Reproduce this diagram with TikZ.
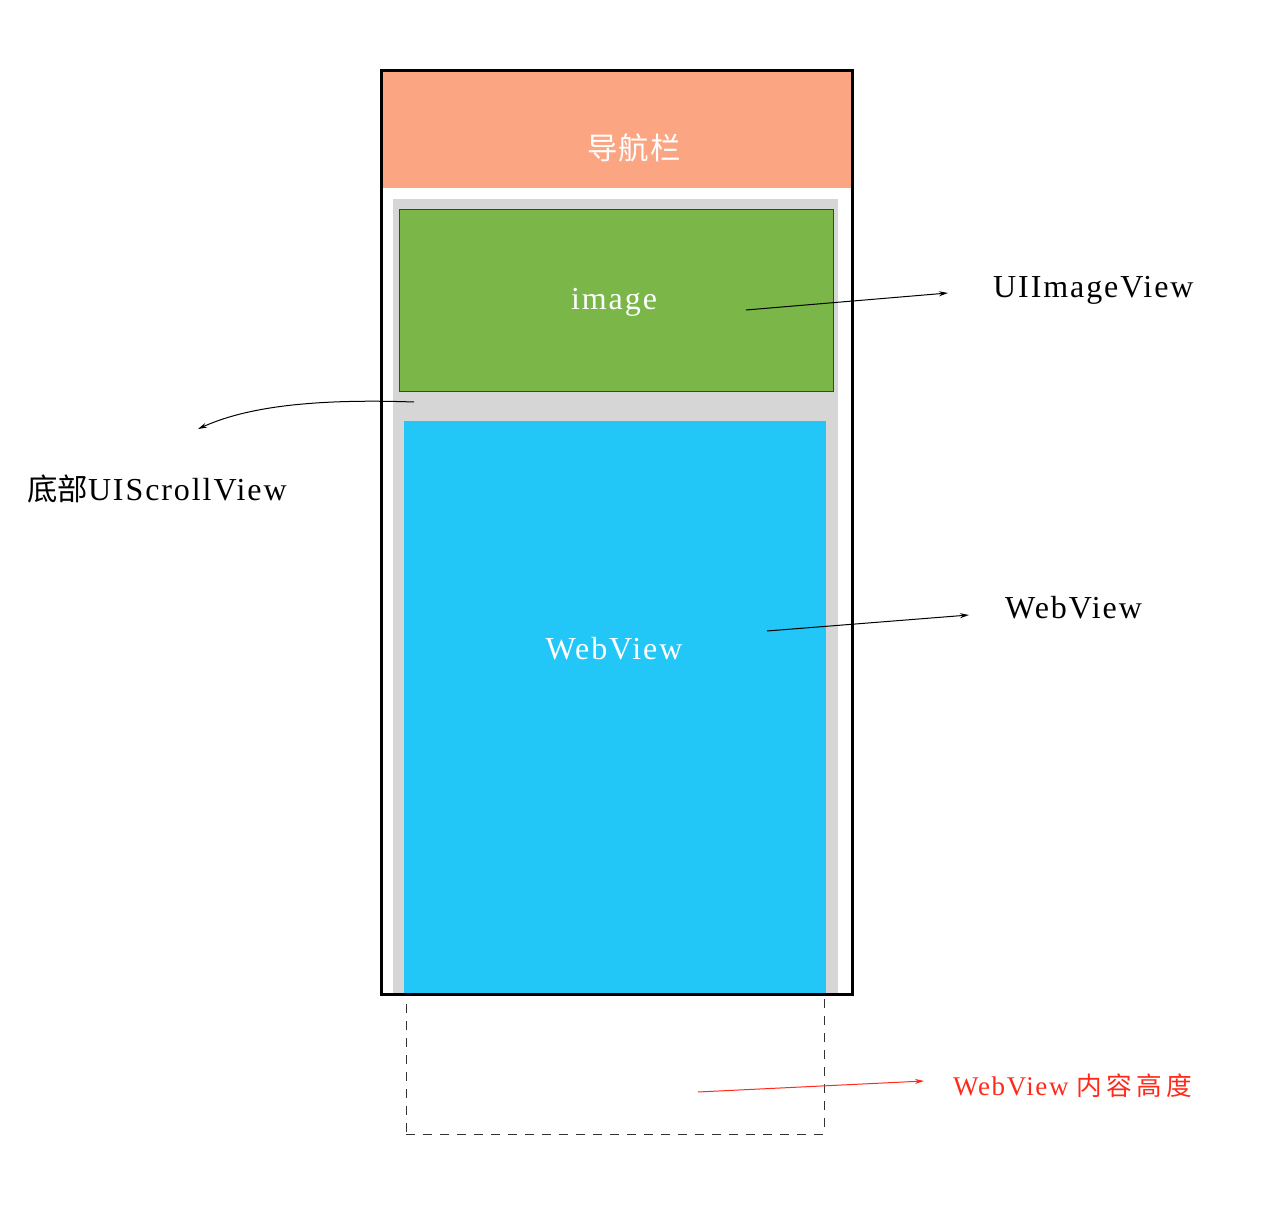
\documentclass[tikz,border=0pt]{standalone}
\usepackage{fontspec}
\setmainfont{Liberation Serif}[LetterSpace=6]
\newfontfamily\cjk{Noto Sans CJK SC}[Scale=0.95]
\usetikzlibrary{arrows.meta}
\definecolor{navsalmon}{HTML}{FBA582}
\definecolor{imggreen}{HTML}{7AB648}
\definecolor{webblue}{HTML}{22C7F7}
\definecolor{scrollgray}{HTML}{D6D6D6}
\definecolor{notered}{HTML}{FF2A1A}
\begin{document}
\begin{tikzpicture}[x=1pt,y=-1pt,
  box/.style={anchor=north west, inner sep=0pt, outer sep=0pt},
  lbl/.style={font=\fontsize{32}{36}\selectfont, inner sep=0pt},
  inlbl/.style={lbl, text=white},
  arr/.style={-{Stealth[length=9pt,width=5pt]}, line width=1pt},
  redarr/.style={arr, draw=notered}]
\useasboundingbox (0,0) rectangle (1278,1222);
% white background
\fill[white] (0,0) rectangle (1278,1222);
% dashed content-height box
\node[box, draw=black!80, dashed, dash pattern=on 9pt off 8pt, line width=1pt,
      minimum width=418pt, minimum height=140pt] (content) at (406,994) {};
% scroll view (gray)
\node[box, fill=scrollgray, minimum width=445pt, minimum height=795pt] (scroll) at (393,199) {};
% image view
\node[box, fill=imggreen, draw=black!75, line width=1pt,
      minimum width=434pt, minimum height=182pt] (img) at (399,210) {};
% web view
\node[box, fill=webblue, minimum width=422pt, minimum height=573pt] (web) at (404,421) {};
% navigation bar
\node[box, fill=navsalmon, minimum width=471pt, minimum height=117pt] (nav) at (381,71) {};
% outer frame
\node[box, draw=black, line width=3pt, minimum width=471pt, minimum height=923pt] (frame) at (381,71) {};

% texts inside
\node[inlbl, font=\cjk\addfontfeature{LetterSpace=4}\fontsize{32}{36}\selectfont] (navtxt) at (634,148) {导航栏};
\node[inlbl] (imgtxt) at (614,302) {image};
\node[inlbl] (webtxt) at (614,649) {WebView};

% outside labels
\node[lbl, anchor=west] (uiimg) at (993,290) {UIImageView};
\node[lbl, anchor=west] (weblbl) at (1005,608) {WebView};
\node[lbl, anchor=west] (scrolllbl) at (27,489) {{\cjk 底部}UIScrollView};
\node[lbl, anchor=west, text=notered, font=\fontsize{27}{30}\selectfont] (heightlbl) at (953,1086)
  {WebView {\cjk\addfontfeature{LetterSpace=16} 内容高度}};

% connector points
\coordinate (imgsrc) at (746,310);
\coordinate (imgend) at (948,293);
\coordinate (websrc) at (767,631);
\coordinate (webend) at (969,615);
\coordinate (scrollsrc) at (414,402);
\coordinate (scrollend) at (198,429);
\coordinate (heightsrc) at (698,1092);
\coordinate (heightend) at (924,1081);

\draw[arr] (imgsrc) -- (imgend);
\draw[arr] (websrc) -- (webend);
\draw[arr] (scrollsrc) .. controls (300,398) and (240,410) .. (scrollend);
\draw[redarr] (heightsrc) -- (heightend);
\end{tikzpicture}
\end{document}
